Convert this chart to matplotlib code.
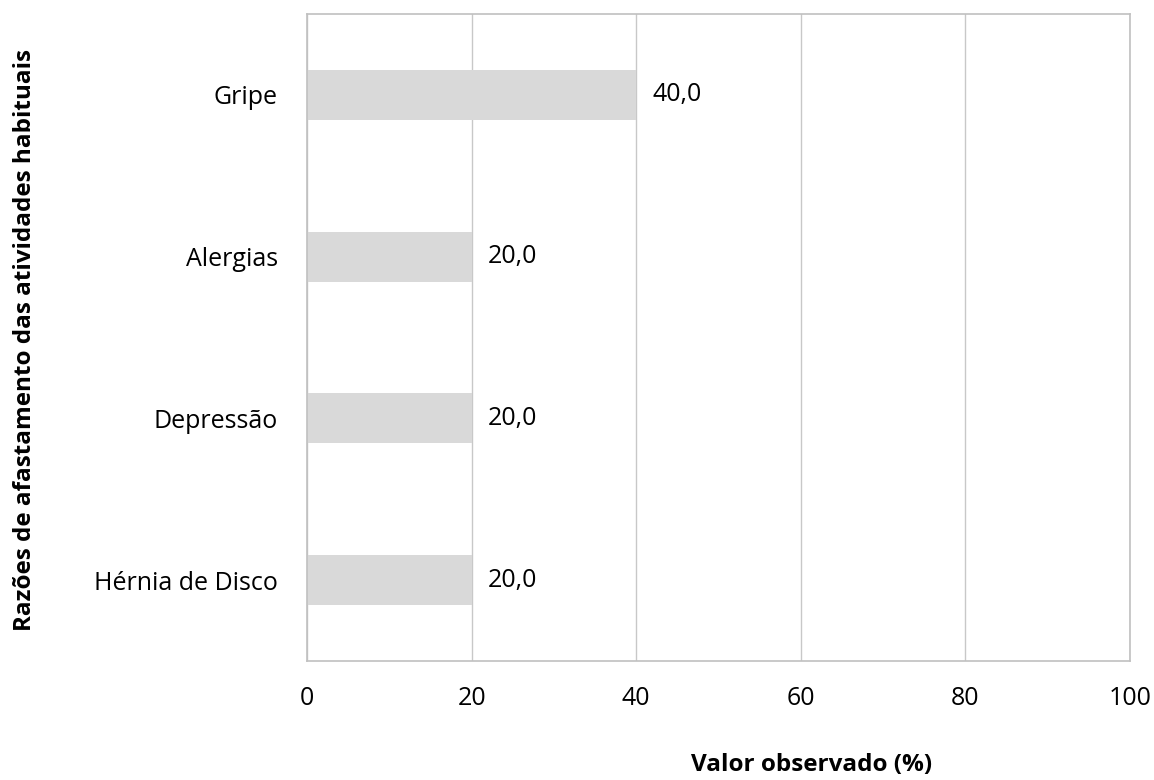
import matplotlib.pyplot as plt
import numpy as np

categories = ['Hérnia de Disco', 'Depressão', 'Alergias', 'Gripe']
values = [20.0, 20.0, 20.0, 40.0]
xticks = [0, 20, 40, 60, 80, 100]

plt.rcParams['font.family'] = ['Open Sans', 'DejaVu Sans']

W, H = 1154, 780
fig = plt.figure(figsize=(W / 100, H / 100), dpi=100)
ax = fig.add_axes([307 / W, 1 - 661 / H, (1130 - 307) / W, (661 - 14) / H])

pos = np.arange(len(categories))
ax.barh(pos, values, height=0.31, color='#D9D9D9', zorder=2)
for p, v in zip(pos, values):
    ax.text(v + 2.0, p, f'{v:.1f}'.replace('.', ','), va='center', ha='left',
            fontsize=18, color='black')

ax.set_xlim(0, 100)
ax.set_ylim(-0.5, 3.5)
ax.set_xticks(xticks)
ax.set_yticks(pos)
ax.set_yticklabels(categories)
ax.tick_params(axis='both', length=0, labelsize=18, colors='black')
ax.tick_params(axis='x', pad=18)
ax.tick_params(axis='y', pad=21)
ax.grid(axis='x', color='#C8C8C8', linewidth=1, zorder=0)
for s in ax.spines.values():
    s.set_color('#C0C0C0')
    s.set_linewidth(1.2)

fig.text(812 / W, 1 - 765 / H, 'Valor observado (%)', ha='center', va='center',
         fontsize=17.5, fontweight='bold')
fig.text(25 / W, 1 - 340 / H, 'Razões de afastamento das atividades habituais',
         ha='center', va='center', rotation=90, fontsize=17.5, fontweight='bold')

fig.savefig('out.png', dpi=100)
